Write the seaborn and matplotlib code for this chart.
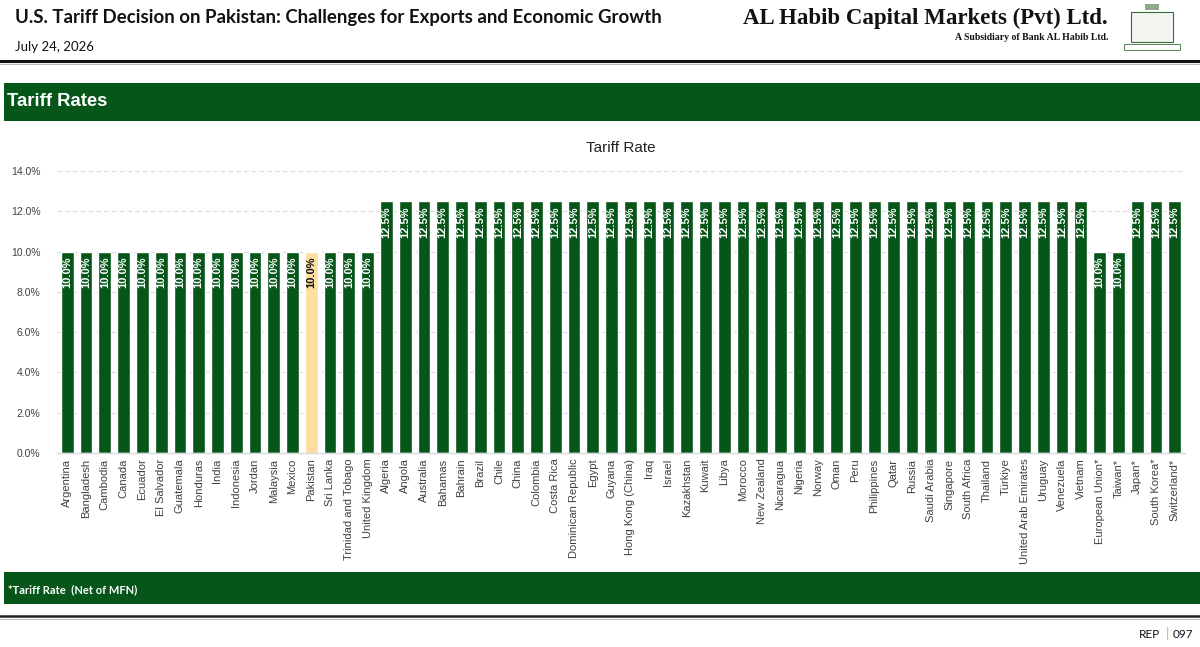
import matplotlib
matplotlib.use("Agg")
import matplotlib.pyplot as plt
import seaborn as sns
import pandas as pd
from matplotlib.patches import Rectangle
from matplotlib.lines import Line2D
from matplotlib.ticker import FuncFormatter, MultipleLocator

countries = [
    "Argentina", "Bangladesh", "Cambodia", "Canada", "Ecuador", "El Salvador",
    "Guatemala", "Honduras", "India", "Indonesia", "Jordan", "Malaysia", "Mexico",
    "Pakistan", "Sri Lanka", "Trinidad and Tobago", "United Kingdom",
    "Algeria", "Angola", "Australia", "Bahamas", "Bahrain", "Brazil", "Chile",
    "China", "Colombia", "Costa Rica", "Dominican Republic", "Egypt", "Guyana",
    "Hong Kong (China)", "Iraq", "Israel", "Kazakhstan", "Kuwait", "Libya",
    "Morocco", "New Zealand", "Nicaragua", "Nigeria", "Norway", "Oman", "Peru",
    "Philippines", "Qatar", "Russia", "Saudi Arabia", "Singapore", "South Africa",
    "Thailand", "Türkiye", "United Arab Emirates", "Uruguay", "Venezuela",
    "Vietnam", "European Union*", "Taiwan*", "Japan*", "South Korea*", "Switzerland*",
]
tariff_rates = [10.0] * 17 + [12.5] * 38 + [10.0, 10.0, 12.5, 12.5, 12.5]
highlight = "Pakistan"

GREEN = "#06561A"
PEACH = "#FEDE9F"

sns.set_theme(style="white")
plt.rcParams["font.family"] = ["Liberation Sans", "DejaVu Sans"]

df = pd.DataFrame({"country": countries, "rate": tariff_rates})
df["grp"] = ["hi" if c == highlight else "base" for c in countries]

fig = plt.figure(figsize=(12, 6.47), dpi=100)
W, H = 1200, 647

def fx(px):
    return px / W

def fy(py):
    return 1 - py / H

# Header
fig.text(fx(15), fy(17), "U.S. Tariff Decision on Pakistan: Challenges for Exports and Economic Growth",
         fontsize=13.4, fontweight="bold", family="Lato", color="#111111", va="center", ha="left")
fig.text(fx(15), fy(47), "July 24, 2026", fontsize=9.5, family="Lato", color="#111111", va="center")
fig.text(fx(1108), fy(18), "AL Habib Capital Markets (Pvt) Ltd.", fontsize=16.5, fontweight="bold",
         family="Liberation Serif", color="#111111", va="center", ha="right")
fig.text(fx(1108), fy(37), "A Subsidiary of Bank AL Habib Ltd.", fontsize=7, fontweight="bold",
         family="Liberation Serif", color="#111111", va="center", ha="right")

# logo (simple emblem)
fig.patches.append(Rectangle((fx(1131), fy(42)), fx(42), 30 / H, transform=fig.transFigure,
                             facecolor="#F3F6F0", edgecolor="#3A6B3A", lw=0.8))
fig.patches.append(Rectangle((fx(1124), fy(50)), fx(56), 6 / H, transform=fig.transFigure,
                             facecolor="#FFFFFF", edgecolor="#3A6B3A", lw=0.6))
fig.patches.append(Rectangle((fx(1145), fy(10)), fx(14), 6 / H, transform=fig.transFigure,
                             facecolor="#8FA88F", edgecolor="none"))

fig.add_artist(Line2D([0, 1], [fy(61), fy(61)], transform=fig.transFigure, color="#111111", lw=2.2))
fig.add_artist(Line2D([0, 1], [fy(64), fy(64)], transform=fig.transFigure, color="#BBBBBB", lw=0.8))

# Green banner
fig.patches.append(Rectangle((fx(4), fy(121)), 1 - fx(4), 38 / H, transform=fig.transFigure,
                             facecolor=GREEN, edgecolor="none"))
fig.text(fx(7), fy(102), "Tariff Rates", fontsize=13.3, fontweight="bold", color="white",
         va="center", ha="left", family="Liberation Sans")

# Footer banner
fig.patches.append(Rectangle((fx(4), fy(604)), 1 - fx(4), 32 / H, transform=fig.transFigure,
                             facecolor=GREEN, edgecolor="none"))
fig.text(fx(8), fy(590), "*Tariff Rate  (Net of MFN)", fontsize=8, fontweight="bold", color="white",
         va="center", ha="left", family="Lato")
fig.add_artist(Line2D([0, 1], [fy(616), fy(616)], transform=fig.transFigure, color="#222222", lw=1.8))
fig.add_artist(Line2D([0, 1], [fy(619), fy(619)], transform=fig.transFigure, color="#BBBBBB", lw=0.8))
fig.text(fx(1160), fy(634), "REP", fontsize=8.5, color="#111111", va="center", ha="right", family="Lato")
fig.text(fx(1167), fy(634), "|", fontsize=9.5, color="#F0A030", va="center", ha="center", family="Lato")
fig.text(fx(1173), fy(634), "097", fontsize=8.5, color="#111111", va="center", ha="left", family="Lato")

# Chart
ax = fig.add_axes([fx(57), fy(453), fx(1185) - fx(57), (453 - 171) / H])
sns.barplot(data=df, x="country", y="rate", hue="grp", palette={"base": GREEN, "hi": PEACH},
            dodge=False, width=0.68, legend=False, ax=ax, saturation=1)
ax.set_ylim(0, 14)
ax.set_xlim(-0.55, len(countries) - 0.45)
ax.yaxis.set_major_locator(MultipleLocator(2))
ax.yaxis.set_major_formatter(FuncFormatter(lambda v, p: f"{v:.1f}%"))
ax.grid(axis="y", color="#D9D9D9", linestyle=(0, (4, 3)), lw=0.8)
ax.set_axisbelow(True)
for s in ["top", "right", "left"]:
    ax.spines[s].set_visible(False)
ax.spines["bottom"].set_color("#D9D9D9")
ax.spines["bottom"].set_linewidth(1)
ax.set_xlabel("")
ax.set_ylabel("")
ax.tick_params(axis="x", labelrotation=90, labelsize=8, labelcolor="#404040", length=0, pad=4)
ax.tick_params(axis="y", labelsize=7.5, labelcolor="#404040", length=0, pad=12)
ax.set_title("Tariff Rate", fontsize=11, color="#222222", pad=14)

for i, (c, v) in enumerate(zip(countries, tariff_rates)):
    ax.text(i, v - 0.25, f"{v:.1f}%", rotation=90, ha="center", va="top",
            fontsize=8, fontweight="bold", color=("#111111" if c == highlight else "white"))

fig.savefig("out.png", dpi=100)
